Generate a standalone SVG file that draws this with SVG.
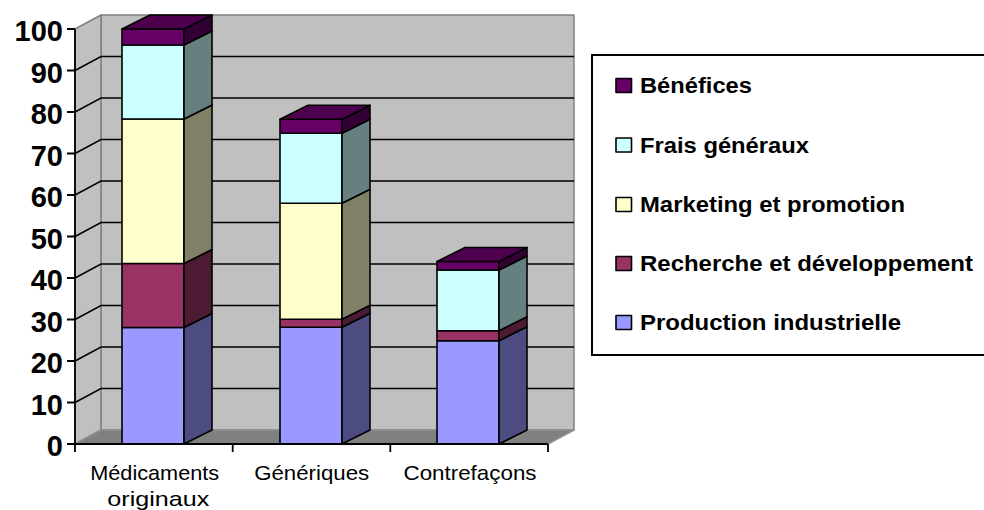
<svg xmlns="http://www.w3.org/2000/svg" width="984" height="510" viewBox="0 0 984 510">
<style>
.wall{fill:#C0C0C0;stroke:#808080;stroke-width:1.5;stroke-linejoin:round}
.floor{fill:#808080;stroke:#909090;stroke-width:1.5;stroke-linejoin:round}
.grid{stroke:#000;stroke-width:1.5;fill:none}
.ax{stroke:#000;stroke-width:1.8;fill:none}
.b{stroke:#000;stroke-width:1.6;stroke-linejoin:round}
.p{fill:#9999FF}.ps{fill:#4C4C80}
.r{fill:#993366}.rs{fill:#4D1A33}
.m{fill:#FFFFCC}.ms{fill:#808066}
.f{fill:#CCFFFF}.fs{fill:#668080}
.n{fill:#660066}.ns{fill:#330033}.nt{fill:#4D004D}
.yl{font-family:"Liberation Sans",Arial,sans-serif;font-weight:bold;font-size:29px;fill:#000;text-anchor:end}
.cl{font-family:"Liberation Sans",Arial,sans-serif;font-size:21px;fill:#000;text-anchor:middle}
.lg{font-family:"Liberation Sans",Arial,sans-serif;font-weight:bold;font-size:22px;fill:#000}
</style>
<rect x="0" y="0" width="984" height="510" fill="#FFFFFF"/>
<g id="walls">
<rect class="wall" x="101" y="15" width="473" height="415"/>
<polygon class="wall" points="75,29 101,15 101,430 75,444"/>
<polygon class="floor" points="75,444 101,430 574,430 548,444"/>
</g>
<g id="gridlines">
<path class="grid" d="M75 402.5L101 388.5H574M75 361L101 347H574M75 319.5L101 305.5H574M75 278L101 264H574M75 236.5L101 222.5H574M75 195L101 181H574M75 153.5L101 139.5H574M75 112L101 98H574M75 70.5L101 56.5H574"/>
</g>
<g id="bar-medicaments-originaux">
<rect class="b p" x="122" y="327.5" width="62" height="116.5"/>
<path class="b ps" d="M184 444L212 430L212 313.5L184 327.5Z"/>
<rect class="b r" x="122" y="263.5" width="62" height="64"/>
<path class="b rs" d="M184 327.5L212 313.5L212 249.5L184 263.5Z"/>
<rect class="b m" x="122" y="119" width="62" height="144.5"/>
<path class="b ms" d="M184 263.5L212 249.5L212 105L184 119Z"/>
<rect class="b f" x="122" y="45" width="62" height="74"/>
<path class="b fs" d="M184 119L212 105L212 31L184 45Z"/>
<rect class="b n" x="122" y="29" width="62" height="16"/>
<path class="b ns" d="M184 45L212 31L212 15L184 29Z"/>
<path class="b nt" d="M122 29L150 15L212 15L184 29Z"/>
</g>
<g id="bar-generiques">
<rect class="b p" x="280" y="327.3" width="62" height="116.7"/>
<path class="b ps" d="M342 444L370 430L370 313.3L342 327.3Z"/>
<rect class="b r" x="280" y="319.3" width="62" height="8"/>
<path class="b rs" d="M342 327.3L370 313.3L370 305.3L342 319.3Z"/>
<rect class="b m" x="280" y="203.3" width="62" height="116"/>
<path class="b ms" d="M342 319.3L370 305.3L370 189.3L342 203.3Z"/>
<rect class="b f" x="280" y="133.3" width="62" height="70"/>
<path class="b fs" d="M342 203.3L370 189.3L370 119.3L342 133.3Z"/>
<rect class="b n" x="280" y="119.3" width="62" height="14"/>
<path class="b ns" d="M342 133.3L370 119.3L370 105.3L342 119.3Z"/>
<path class="b nt" d="M280 119.3L308 105.3L370 105.3L342 119.3Z"/>
</g>
<g id="bar-contrefacons">
<rect class="b p" x="437" y="340.7" width="62" height="103.3"/>
<path class="b ps" d="M499 444L527 430L527 326.7L499 340.7Z"/>
<rect class="b r" x="437" y="330.7" width="62" height="10"/>
<path class="b rs" d="M499 340.7L527 326.7L527 316.7L499 330.7Z"/>
<rect class="b f" x="437" y="270" width="62" height="60.7"/>
<path class="b fs" d="M499 330.7L527 316.7L527 256L499 270Z"/>
<rect class="b n" x="437" y="261.5" width="62" height="8.5"/>
<path class="b ns" d="M499 270L527 256L527 247.5L499 261.5Z"/>
<path class="b nt" d="M437 261.5L465 247.5L527 247.5L499 261.5Z"/>
</g>
<g id="axes">
<path class="ax" d="M75 29V444H548"/>
<path class="ax" d="M67 444H75M67 402.5H75M67 361H75M67 319.5H75M67 278H75M67 236.5H75M67 195H75M67 153.5H75M67 112H75M67 70.5H75M67 29H75"/>
<path class="ax" d="M75 444V452M232.7 444V452M390.3 444V452M548 444V452"/>
</g>
<g id="y-labels">
<text class="yl" x="63" y="456">0</text>
<text class="yl" x="63" y="414.5">10</text>
<text class="yl" x="63" y="373">20</text>
<text class="yl" x="63" y="331.5">30</text>
<text class="yl" x="63" y="290">40</text>
<text class="yl" x="63" y="248.5">50</text>
<text class="yl" x="63" y="207">60</text>
<text class="yl" x="63" y="165.5">70</text>
<text class="yl" x="63" y="124">80</text>
<text class="yl" x="63" y="82.5">90</text>
<text class="yl" x="63" y="41">100</text>
</g>
<g id="category-labels">
<text class="cl" x="154.7" y="480" textLength="129" lengthAdjust="spacingAndGlyphs">Médicaments</text>
<text class="cl" x="158.3" y="506" textLength="102" lengthAdjust="spacingAndGlyphs">originaux</text>
<text class="cl" x="311.7" y="480" textLength="115" lengthAdjust="spacingAndGlyphs">Génériques</text>
<text class="cl" x="470" y="480" textLength="133" lengthAdjust="spacingAndGlyphs">Contrefaçons</text>
</g>
<g id="legend">
<rect x="592" y="55" width="400" height="300" fill="#FFFFFF" stroke="#000" stroke-width="2"/>
<rect class="b n" x="616" y="78.5" width="15.5" height="14"/>
<text class="lg" x="640" y="93" textLength="112" lengthAdjust="spacingAndGlyphs">Bénéfices</text>
<rect class="b f" x="616" y="138" width="15.5" height="14"/>
<text class="lg" x="640" y="152.5" textLength="169" lengthAdjust="spacingAndGlyphs">Frais généraux</text>
<rect class="b m" x="616" y="197.5" width="15.5" height="14"/>
<text class="lg" x="640" y="212" textLength="265" lengthAdjust="spacingAndGlyphs">Marketing et promotion</text>
<rect class="b r" x="616" y="256.5" width="15.5" height="14"/>
<text class="lg" x="640" y="271" textLength="333" lengthAdjust="spacingAndGlyphs">Recherche et développement</text>
<rect class="b p" x="616" y="315.5" width="15.5" height="14"/>
<text class="lg" x="640" y="330" textLength="261" lengthAdjust="spacingAndGlyphs">Production industrielle</text>
</g>
</svg>
